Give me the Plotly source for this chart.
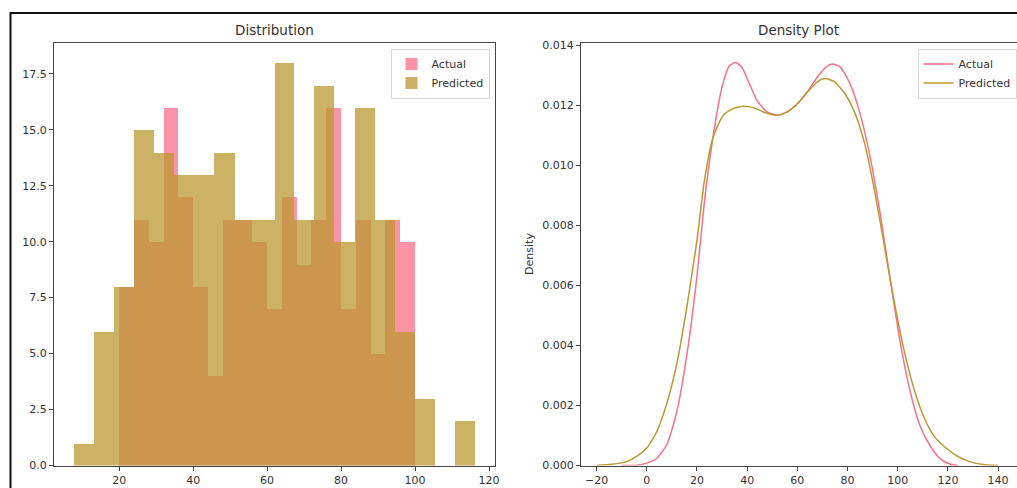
import plotly.graph_objects as go

W, H = 1017, 488

# ---------------- data ----------------
series_names = ["Actual", "Predicted"]

# Histogram (20 bins each)
actual_edges = [20, 24, 28, 32, 36, 40, 44, 48, 52, 56, 60, 64, 68, 72, 76, 80, 84, 88, 92, 96, 100]
actual_counts = [8, 11, 10, 16, 12, 8, 4, 11, 11, 10, 7, 12, 9, 11, 16, 7, 11, 5, 11, 10]

predicted_edges = [7.8, 13.2, 18.6, 24.0, 29.5, 34.9, 40.3, 45.7, 51.2, 56.6, 62.0,
                   67.4, 72.8, 78.2, 83.7, 89.1, 94.5, 99.9, 105.3, 110.8, 116.2]
predicted_counts = [1, 6, 8, 15, 14, 13, 13, 14, 11, 11, 18, 11, 17, 10, 16, 11, 6, 3, 0, 2]

# Density curves
kde_actual_x = [-10, -4, 0, 4, 8, 12, 16, 20, 23, 26.5, 30, 33, 35.5, 38, 41, 44, 48, 52,
                56, 60, 64, 68, 71.5, 74, 77, 81, 85, 89, 93, 97, 101, 105, 109, 113, 117,
                121, 124]
kde_actual_y = [0.0, 0.00001, 0.00008, 0.00024, 0.00070, 0.00180, 0.00370, 0.00630, 0.00880,
                0.01100, 0.01260, 0.01332, 0.01342, 0.01325, 0.01270, 0.01215, 0.01178, 0.01167,
                0.01178, 0.01205, 0.01244, 0.01294, 0.01328, 0.01337, 0.01328, 0.01272, 0.01172,
                0.01028, 0.00840, 0.00620, 0.00410, 0.00245, 0.00130, 0.00065, 0.00022,
                0.00004, 0.0]

kde_pred_x = [-20, -14, -8, -4, 0, 4, 8, 12, 16, 20, 23, 26.5, 30.5, 34.5, 38.5, 42.5, 47, 52,
              56, 60, 64, 68, 71, 74.5, 78.5, 82.5, 86.5, 90.5, 94.5, 98.5, 102.5, 106.5,
              110.5, 114.5, 119, 124, 129, 134, 140]
kde_pred_y = [0.0, 0.00004, 0.00013, 0.00030, 0.00058, 0.00113, 0.00207, 0.00340, 0.00529,
              0.00750, 0.00950, 0.01095, 0.01167, 0.01189, 0.01197, 0.01192, 0.01176, 0.01167,
              0.01178, 0.01205, 0.01244, 0.01278, 0.01289, 0.01280, 0.01244, 0.01183, 0.01083,
              0.00928, 0.00740, 0.00550, 0.00385, 0.00255, 0.00160, 0.00098, 0.00060,
              0.00030, 0.00012, 0.00003, 0.0]

hist_yticks = [0, 2.5, 5, 7.5, 10, 12.5, 15, 17.5]
hist_xticks = [20, 40, 60, 80, 100, 120]
kde_yticks = [0, 0.002, 0.004, 0.006, 0.008, 0.010, 0.012, 0.014]
kde_xticks = [-20, 0, 20, 40, 60, 80, 100, 120, 140]

colors = {"Actual": "#f77189", "Predicted": "#bb9832"}

# ---------------- helpers ----------------
def px(x):
    return x / W

def py(y):
    return 1 - y / H

def centers(edges):
    return [(a + b) / 2 for a, b in zip(edges[:-1], edges[1:])]

def widths(edges):
    return [b - a for a, b in zip(edges[:-1], edges[1:])]

FONT = "DejaVu Sans"
TXT = "#333333"

fig = go.Figure()

fig.add_trace(go.Bar(
    x=centers(actual_edges), y=actual_counts, width=widths(actual_edges),
    name="Actual", marker=dict(color=colors["Actual"], line=dict(width=0)),
    opacity=0.75, xaxis="x", yaxis="y", legend="legend"))
fig.add_trace(go.Bar(
    x=centers(predicted_edges), y=predicted_counts, width=widths(predicted_edges),
    name="Predicted", marker=dict(color=colors["Predicted"], line=dict(width=0)),
    opacity=0.75, xaxis="x", yaxis="y", legend="legend"))

fig.add_trace(go.Scatter(
    x=kde_actual_x, y=kde_actual_y, mode="lines", name="Actual",
    line=dict(color=colors["Actual"], width=1.5, shape="spline", smoothing=0.6),
    xaxis="x2", yaxis="y2", legend="legend2"))
fig.add_trace(go.Scatter(
    x=kde_pred_x, y=kde_pred_y, mode="lines", name="Predicted",
    line=dict(color=colors["Predicted"], width=1.5, shape="spline", smoothing=0.6),
    xaxis="x2", yaxis="y2", legend="legend2"))

axis_common = dict(
    showgrid=False, zeroline=False, showline=True, linecolor="#444444", linewidth=1,
    ticks="outside", ticklen=4, tickwidth=1, tickcolor="#444444",
    tickfont=dict(family=FONT, size=11, color=TXT), automargin=False,
)

y_dom = [py(465.5), py(42.5)]

fig.update_layout(
    template="none",
    width=W, height=H,
    margin=dict(l=0, r=0, t=0, b=0),
    paper_bgcolor="white", plot_bgcolor="white",
    barmode="overlay", bargap=0,
    xaxis=dict(domain=[px(54), px(495)], range=[2.38, 121.62], tickvals=hist_xticks,
               anchor="y", mirror=True, **axis_common),
    yaxis=dict(domain=y_dom, range=[0, 18.9], tickvals=hist_yticks, tickformat=".1f",
               anchor="x", mirror=True, **axis_common),
    xaxis2=dict(domain=[px(581), 1.0], range=[-26.2, (W - 646.7) / 2.51], tickvals=kde_xticks,
                anchor="y2", mirror=True, **axis_common),
    yaxis2=dict(domain=y_dom, range=[0, 0.01409], tickvals=kde_yticks, tickformat=".3f",
                anchor="x2", mirror=False,
                title=dict(text="Density", font=dict(family=FONT, size=11, color=TXT), standoff=6),
                **axis_common),
    legend=dict(x=px(489.5), xanchor="right", y=py(48.5), yanchor="top",
                bgcolor="rgba(255,255,255,0.8)", bordercolor="#d8d8d8", borderwidth=1,
                font=dict(family=FONT, size=11, color=TXT), itemwidth=30,
                tracegroupgap=0),
    legend2=dict(x=px(1016.5), xanchor="right", y=py(48.5), yanchor="top",
                 bgcolor="rgba(255,255,255,0.8)", bordercolor="#d8d8d8", borderwidth=1,
                 font=dict(family=FONT, size=11, color=TXT), itemwidth=30,
                 tracegroupgap=0),
    annotations=[
        dict(text="Distribution", x=px(274.5), y=py(30), xref="paper", yref="paper",
             showarrow=False, xanchor="center", yanchor="middle",
             font=dict(family=FONT, size=13.5, color=TXT)),
        dict(text="Density Plot", x=px(798), y=py(30), xref="paper", yref="paper",
             showarrow=False, xanchor="center", yanchor="middle",
             font=dict(family=FONT, size=13.5, color=TXT)),
    ],
    shapes=[
        dict(type="line", xref="paper", yref="paper", x0=px(10), x1=1.0, y0=py(13), y1=py(13),
             line=dict(color="#111111", width=2)),
        dict(type="line", xref="paper", yref="paper", x0=px(10.5), x1=px(10.5), y0=py(12), y1=0,
             line=dict(color="#111111", width=2)),
    ],
)

fig.write_html(
    "out.html",
    config={"displayModeBar": False},
    post_script="document.body.style.margin='0px';document.body.style.overflow='hidden';",
)
